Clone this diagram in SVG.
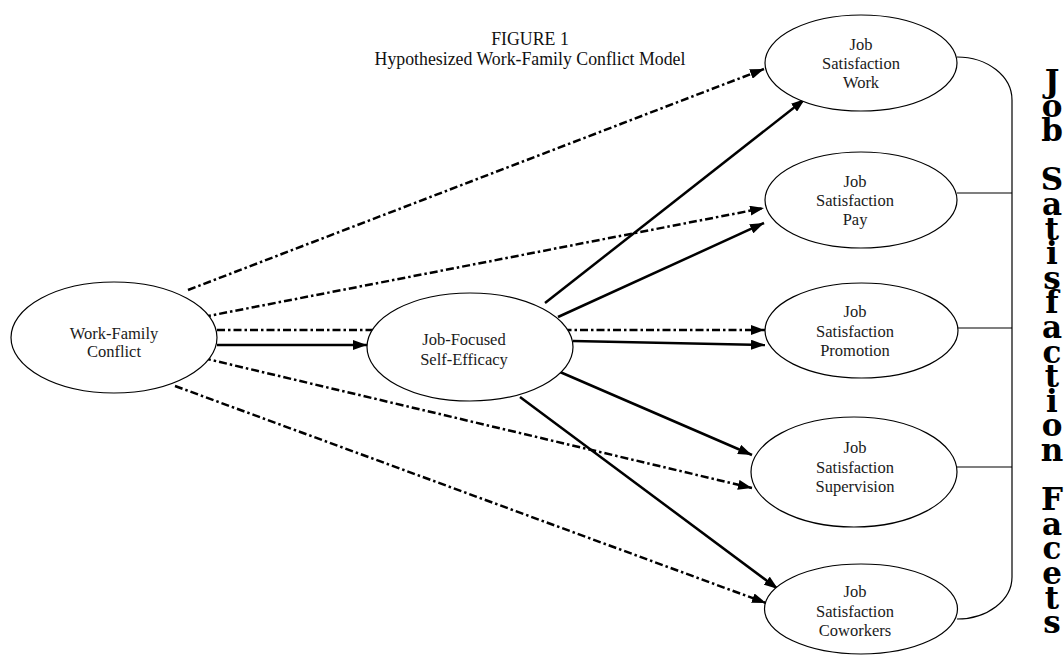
<svg xmlns="http://www.w3.org/2000/svg" width="1064" height="656" viewBox="0 0 1064 656">
<style>
  .node ellipse { fill: #fff; stroke: #000; stroke-width: 1.2; }
  .lbl { font-family: "Liberation Serif", "Times New Roman", serif; font-size: 16.5px; fill: #1a1a1a; text-anchor: middle; }
  .title { font-family: "Liberation Serif", "Times New Roman", serif; font-size: 17.8px; fill: #111; text-anchor: middle; }
  .dd { fill: none; stroke: #000; stroke-width: 2.5; stroke-dasharray: 8 3 2.5 3; marker-end: url(#ah); }
  .solid { fill: none; stroke: #000; stroke-width: 2.5; marker-end: url(#ah); }
  .bracket { fill: none; stroke: #000; stroke-width: 1.2; }
  .vert { font-family: "DejaVu Serif", serif; font-weight: bold; font-size: 31px; fill: #000; text-anchor: middle; }
</style>
<defs>
  <marker id="ah" markerUnits="userSpaceOnUse" markerWidth="15" markerHeight="10" refX="14" refY="5" orient="auto">
    <path d="M0,0 L14,5 L0,10 z" fill="#000"/>
  </marker>
</defs>
<rect width="1064" height="656" fill="#fff"/>

<g id="title">
  <text class="title" x="530" y="45">FIGURE 1</text>
  <text class="title" x="530" y="65">Hypothesized Work-Family Conflict Model</text>
</g>

<g id="connectors">
  <line class="dd" x1="188" y1="290" x2="764" y2="69"/>
  <line class="dd" x1="203" y1="317" x2="764" y2="208"/>
  <line class="dd" x1="217" y1="330" x2="765" y2="330"/>
  <line class="dd" x1="203" y1="358" x2="752" y2="488"/>
  <line class="dd" x1="175" y1="386" x2="766" y2="603"/>
  <line class="solid" x1="217" y1="345" x2="367" y2="345"/>
  <line class="solid" x1="545" y1="303" x2="805" y2="99"/>
  <line class="solid" x1="558" y1="317" x2="764" y2="223"/>
  <line class="solid" x1="573" y1="341" x2="765" y2="345"/>
  <line class="solid" x1="560" y1="372" x2="752" y2="455"/>
  <line class="solid" x1="520" y1="397" x2="778" y2="589"/>
  <path class="bracket" d="M957,57 A55,43 0 0 1 1012,100 L1012,577 A55,42 0 0 1 957,619"/>
  <line class="bracket" x1="957" y1="193" x2="1012" y2="193"/>
  <line class="bracket" x1="958" y1="328" x2="1012" y2="328"/>
  <line class="bracket" x1="957" y1="467" x2="1012" y2="467"/>
</g>

<g id="wfc" class="node">
  <ellipse cx="114" cy="337.5" rx="103" ry="55.5"/>
  <text class="lbl" x="114" y="338.5">Work-Family</text>
  <text class="lbl" x="114" y="357">Conflict</text>
</g>
<g id="jfse" class="node">
  <ellipse cx="470" cy="347" rx="103" ry="54"/>
  <text class="lbl" x="464" y="345">Job-Focused</text>
  <text class="lbl" x="464" y="365">Self-Efficacy</text>
</g>
<g id="js-work" class="node">
  <ellipse cx="861" cy="63" rx="96" ry="48"/>
  <text class="lbl" x="861" y="50">Job</text>
  <text class="lbl" x="861" y="69">Satisfaction</text>
  <text class="lbl" x="861" y="88">Work</text>
</g>
<g id="js-pay" class="node">
  <ellipse cx="861" cy="200" rx="96" ry="48"/>
  <text class="lbl" x="855" y="187">Job</text>
  <text class="lbl" x="855" y="206">Satisfaction</text>
  <text class="lbl" x="855" y="225">Pay</text>
</g>
<g id="js-promotion" class="node">
  <ellipse cx="861.5" cy="330.5" rx="96.5" ry="47.5"/>
  <text class="lbl" x="855" y="317">Job</text>
  <text class="lbl" x="855" y="337">Satisfaction</text>
  <text class="lbl" x="855" y="356">Promotion</text>
</g>
<g id="js-supervision" class="node">
  <ellipse cx="854" cy="472" rx="103" ry="55"/>
  <text class="lbl" x="855" y="453">Job</text>
  <text class="lbl" x="855" y="473">Satisfaction</text>
  <text class="lbl" x="855" y="492">Supervision</text>
</g>
<g id="js-coworkers" class="node">
  <ellipse cx="861" cy="609" rx="96.5" ry="45"/>
  <text class="lbl" x="855" y="597">Job</text>
  <text class="lbl" x="855" y="617">Satisfaction</text>
  <text class="lbl" x="855" y="636">Coworkers</text>
</g>

<g id="facets-label">
  <text class="vert"><tspan x="1052" y="92">J</tspan><tspan x="1052" y="116.6">o</tspan><tspan x="1052" y="141.2">b</tspan><tspan x="1052" y="190.4">S</tspan><tspan x="1052" y="215">a</tspan><tspan x="1052" y="239.6">t</tspan><tspan x="1052" y="264.2">i</tspan><tspan x="1052" y="288.8">s</tspan><tspan x="1052" y="313.4">f</tspan><tspan x="1052" y="338">a</tspan><tspan x="1052" y="362.6">c</tspan><tspan x="1052" y="387.2">t</tspan><tspan x="1052" y="411.8">i</tspan><tspan x="1052" y="436.4">o</tspan><tspan x="1052" y="461">n</tspan><tspan x="1052" y="510.2">F</tspan><tspan x="1052" y="534.8">a</tspan><tspan x="1052" y="559.4">c</tspan><tspan x="1052" y="584">e</tspan><tspan x="1052" y="608.6">t</tspan><tspan x="1052" y="633.2">s</tspan></text>
</g>
</svg>
